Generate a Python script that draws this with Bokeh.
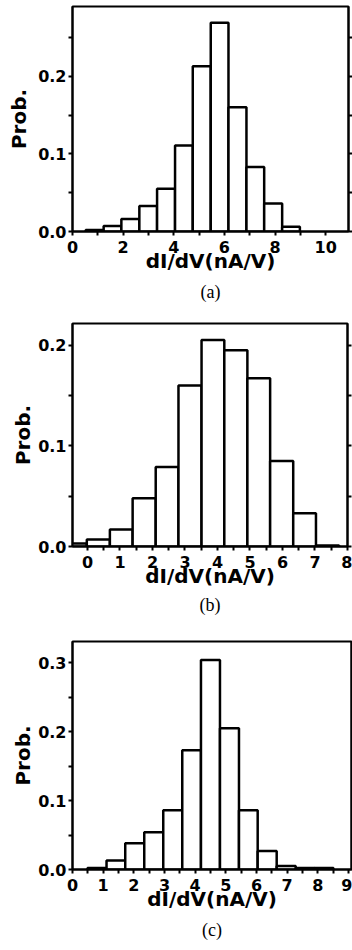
from bokeh.plotting import figure
from bokeh.models import Range1d, LinearAxis, FixedTicker, Title, NumeralTickFormatter, ColumnDataSource
from bokeh.layouts import column
from bokeh.embed import file_html
from bokeh.resources import INLINE

# ---- data ----
# Panel (a)
a_edges = [0.52, 1.23, 1.93, 2.64, 3.34, 4.05, 4.75, 5.46, 6.16, 6.87, 7.57, 8.28, 8.98]
a_prob = [0.002, 0.007, 0.016, 0.033, 0.055, 0.111, 0.213, 0.269, 0.160, 0.083, 0.036, 0.006]
a_xticks = [0, 2, 4, 6, 8, 10]
a_xminor = [1, 3, 5, 7, 9]
a_yticks = [0.0, 0.1, 0.2]
a_yminor = [0.05, 0.15, 0.25]

# Panel (b)
b_edges = [-0.72, -0.02, 0.69, 1.39, 2.10, 2.80, 3.51, 4.21, 4.92, 5.62, 6.33, 7.03, 7.74]
b_prob = [0.003, 0.007, 0.017, 0.048, 0.079, 0.160, 0.205, 0.195, 0.167, 0.085, 0.033, 0.001]
b_xticks = [0, 1, 2, 3, 4, 5, 6, 7, 8]
b_xminor = [0.5, 1.5, 2.5, 3.5, 4.5, 5.5, 6.5, 7.5]
b_yticks = [0.0, 0.1, 0.2]
b_yminor = [0.05, 0.15]

# Panel (c)
c_edges = [0.49, 1.11, 1.72, 2.34, 2.96, 3.58, 4.19, 4.81, 5.43, 6.04, 6.66, 7.28, 7.89, 8.51]
c_prob = [0.002, 0.013, 0.038, 0.054, 0.086, 0.173, 0.304, 0.205, 0.086, 0.027, 0.005, 0.002, 0.002]
c_xticks = [0, 1, 2, 3, 4, 5, 6, 7, 8, 9]
c_xminor = [0.5, 1.5, 2.5, 3.5, 4.5, 5.5, 6.5, 7.5, 8.5]
c_yticks = [0.0, 0.1, 0.2, 0.3]
c_yminor = [0.05, 0.15, 0.25]

x_label = "dI/dV(nA/V)"
y_label = "Prob."

SANS = "DejaVu Sans"


def style_axis(ax, ticks, minor):
    ax.ticker = FixedTicker(ticks=ticks, minor_ticks=minor)
    ax.axis_line_width = 2
    ax.axis_line_color = "black"
    ax.major_tick_line_width = 2
    ax.minor_tick_line_width = 2
    ax.major_tick_in = 0
    ax.major_tick_out = 4
    ax.minor_tick_in = 0
    ax.minor_tick_out = 4
    ax.major_label_standoff = 2
    ax.major_label_text_font = SANS
    ax.major_label_text_font_style = "bold"
    ax.major_label_text_font_size = "16px"
    ax.major_label_text_color = "black"
    ax.axis_label_text_font = SANS
    ax.axis_label_text_font_style = "bold"
    ax.axis_label_text_font_size = "20px"
    ax.axis_label_text_color = "black"


def panel(edges, prob, xr, yr, xt, xm, yt, ym, caption, fw, fh, bl, br, bt, bb,
          ylab_standoff, cap_standoff):
    src = ColumnDataSource(dict(left=edges[:-1], right=edges[1:], top=prob))
    p = figure(frame_width=fw, frame_height=fh, x_range=Range1d(*xr), y_range=Range1d(*yr),
               output_backend="svg", toolbar_location=None,
               min_border_left=bl, min_border_right=br, min_border_top=bt, min_border_bottom=bb)
    p.quad(left="left", right="right", top="top", bottom=0, source=src,
           fill_color="white", line_color="black", line_width=2.5)
    p.xgrid.visible = False
    p.ygrid.visible = False
    p.outline_line_color = "black"
    p.outline_line_width = 2
    p.background_fill_color = "white"
    p.border_fill_color = "white"

    style_axis(p.xaxis[0], xt, xm)
    style_axis(p.yaxis[0], yt, ym)
    p.yaxis[0].formatter = NumeralTickFormatter(format="0.0")
    p.xaxis[0].axis_label = x_label
    p.yaxis[0].axis_label = y_label
    p.xaxis[0].major_label_standoff = 5
    p.xaxis[0].axis_label_standoff = -7
    p.yaxis[0].axis_label_standoff = ylab_standoff

    # right-hand axis: tick marks only (no labels)
    r = LinearAxis()
    style_axis(r, [], list(yt) + list(ym))
    r.major_label_standoff = 0
    p.add_layout(r, "right")

    t = Title(text=caption, align="center", text_font="Liberation Serif",
              text_font_size="18px", text_font_style="normal", text_color="black",
              standoff=cap_standoff)
    p.add_layout(t, "below")
    return p


pa = panel(a_edges, a_prob, (0.0, 10.9), (0.0, 0.29), a_xticks, a_xminor, a_yticks, a_yminor,
           "(a)", 276, 225, 72, 4, 6, 81, 4, 8)
pb = panel(b_edges, b_prob, (-0.46, 8.0), (0.0, 0.2215), b_xticks, b_xminor, b_yticks, b_yminor,
           "(b)", 275, 223, 68, 9, 11, 84, 0, 4)
pc = panel(c_edges, c_prob, (0.0, 9.1), (0.0, 0.331), c_xticks, c_xminor, c_yticks, c_yminor,
           "(c)", 279, 228, 69, 4, 11, 81, 0, 8)

layout = column(pa, pb, pc, spacing=0)
open("out.html", "w").write(file_html(layout, INLINE))
